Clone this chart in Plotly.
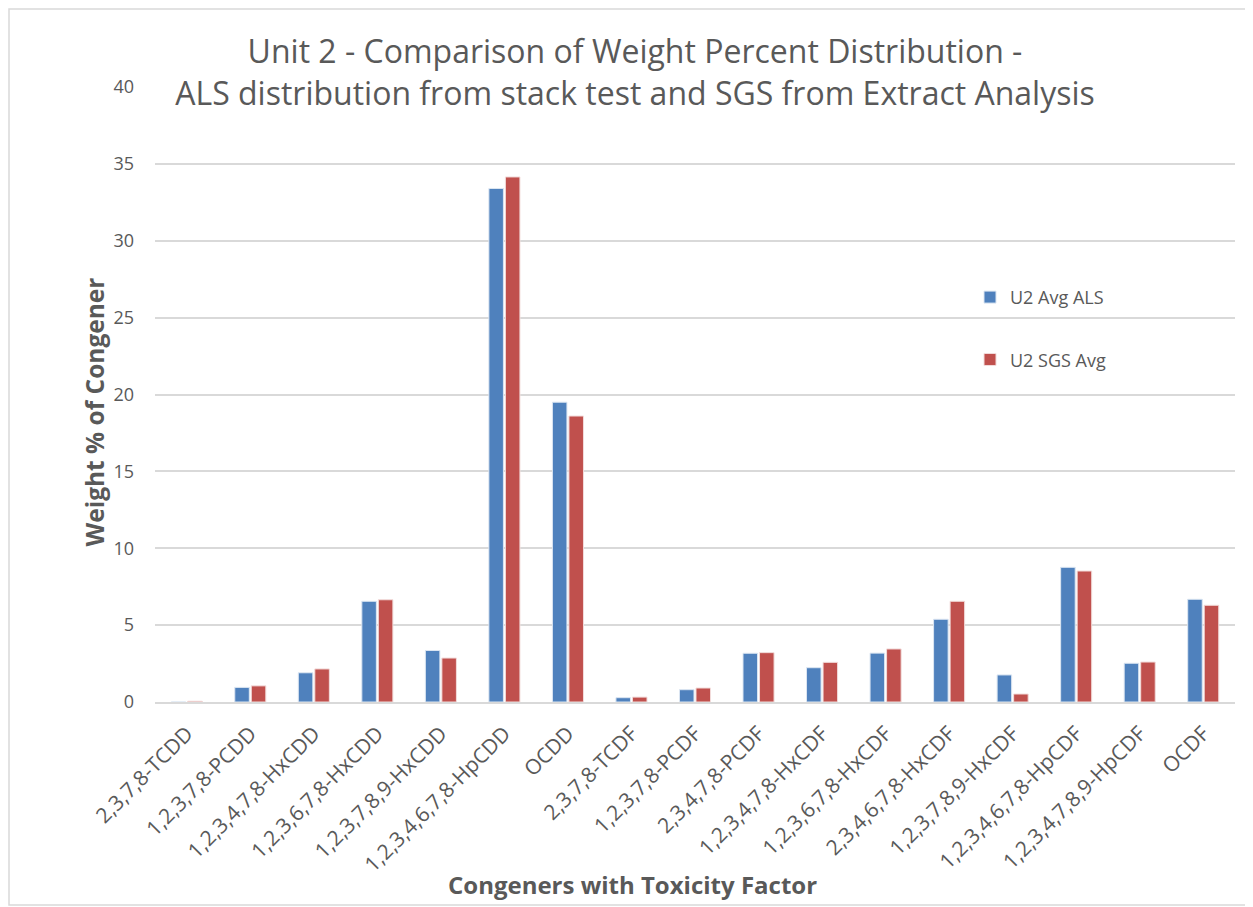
import plotly.graph_objects as go

congeners = ["2,3,7,8-TCDD", "1,2,3,7,8-PCDD", "1,2,3,4,7,8-HxCDD", "1,2,3,6,7,8-HxCDD",
             "1,2,3,7,8,9-HxCDD", "1,2,3,4,6,7,8-HpCDD", "OCDD", "2,3,7,8-TCDF",
             "1,2,3,7,8-PCDF", "2,3,4,7,8-PCDF", "1,2,3,4,7,8-HxCDF", "1,2,3,6,7,8-HxCDF",
             "2,3,4,6,7,8-HxCDF", "1,2,3,7,8,9-HxCDF", "1,2,3,4,6,7,8-HpCDF",
             "1,2,3,4,7,8,9-HpCDF", "OCDF"]
als_avg = [0.0, 0.95, 1.9, 6.55, 3.35, 33.4, 19.5, 0.28, 0.8, 3.17, 2.23, 3.18,
           5.38, 1.76, 8.76, 2.52, 6.68]
sgs_avg = [0.05, 1.05, 2.15, 6.65, 2.86, 34.15, 18.6, 0.32, 0.91, 3.21, 2.58, 3.45,
           6.55, 0.52, 8.52, 2.6, 6.29]

grey = "#595959"
fig = go.Figure()
fig.add_trace(go.Bar(x=congeners, y=als_avg, name="U2 Avg ALS", legendgroup="a",
                     marker=dict(color="#4F81BD", line=dict(color="#dce6f2", width=1))))
fig.add_trace(go.Bar(x=congeners, y=sgs_avg, name="U2 SGS Avg", legendgroup="b",
                     marker=dict(color="#C0504D", line=dict(color="#f2dcdb", width=1))))

# light outer border round the whole chart
W, H = 1245, 899
L, R, T, B = 147, 18, 79, 205
pw, ph = W - L - R, H - T - B
fig.add_shape(type="rect", xref="paper", yref="paper",
              x0=-(L - 1) / pw, x1=1 + (R - 3) / pw, y0=-(B - 2) / ph, y1=1 + (T - 1) / ph,
              line=dict(color="#d9d9d9", width=1.5), layer="below")

# axis titles as annotations, they sit a little off-centre in the original
fig.add_annotation(text="<b>Congeners with Toxicity Factor</b>", xref="paper", yref="paper",
                   x=(624 - L) / pw, y=-0.327, showarrow=False,
                   font=dict(size=24, color=grey))
fig.add_annotation(text="<b>Weight % of Congener</b>", xref="paper", yref="paper",
                   x=(67 - L) / pw, y=1 - (404 - T) / ph, textangle=-90, showarrow=False,
                   font=dict(size=24.5, color=grey))

fig.update_layout(
    width=W, height=H,
    margin=dict(l=L, r=R, t=T, b=B),
    plot_bgcolor="white", paper_bgcolor="white",
    font=dict(family="Open Sans", color=grey),
    title=dict(text="Unit 2 - Comparison of Weight Percent Distribution -<br>ALS distribution from stack test and SGS from Extract Analysis",
               x=627 / W, xref="container", xanchor="center", y=1 - 55 / H, yanchor="middle",
               font=dict(size=32, color=grey)),
    barmode="group", bargap=0.48, bargroupgap=0.12,
    legend=dict(x=(962 - L) / pw, y=0.688, xanchor="left", yanchor="top",
                font=dict(size=18, color=grey), tracegroupgap=36,
                bgcolor="rgba(0,0,0,0)"),
    xaxis=dict(tickangle=-45, tickfont=dict(size=21, color=grey), automargin=False,
               showline=True, linecolor="#d9d9d9", linewidth=2, ticklabelstandoff=9),
    yaxis=dict(range=[0, 40], dtick=5, tickfont=dict(size=18, color=grey), automargin=False,
               gridcolor="#d9d9d9", gridwidth=2, zeroline=False, ticklabelstandoff=20),
)

fig.write_html("out.html")
